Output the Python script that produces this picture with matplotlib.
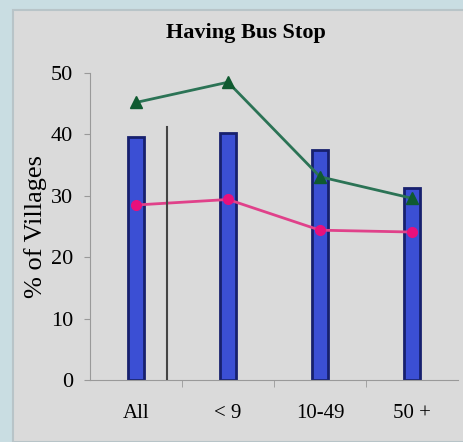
import matplotlib.pyplot as plt
from matplotlib.patches import Rectangle

categories = ["All", "< 9", "10-49", "50 +"]
bar_values = [39.5, 40.3, 37.5, 31.3]
green_values = [45.2, 48.5, 33.1, 29.6]
pink_values = [28.5, 29.4, 24.4, 24.1]
yticks = [0, 10, 20, 30, 40, 50]

plt.rcParams["font.family"] = ["Liberation Serif", "DejaVu Serif"]

fig = plt.figure(figsize=(4.63, 4.42), dpi=100, facecolor="#c9dde2")
# grey inner panel
fig.patches.append(Rectangle((13 / 463, 0), 1, 1 - 10 / 442, transform=fig.transFigure,
                             facecolor="#dadada", edgecolor="#b8c4c8", linewidth=1.5, zorder=0))

ax = fig.add_axes([90 / 463, 1 - 380 / 442, 368 / 463, (380 - 73) / 442])
ax.set_facecolor("none")
ax.set_zorder(2)

x = list(range(len(categories)))
ax.bar(x, bar_values, width=0.18, color="#3b4fd4", edgecolor="#17206e", linewidth=2, zorder=2)
ax.plot(x, pink_values, color="#e0418a", linewidth=2, marker="o", markersize=7,
        markerfacecolor="#e8107c", markeredgecolor="#e8107c", zorder=3)
ax.plot(x, green_values, color="#2b7355", linewidth=2, marker="^", markersize=9,
        markerfacecolor="#0f5a30", markeredgecolor="#0f5a30", zorder=4)
ax.plot([0.34, 0.34], [0, 41.2], color="#444444", linewidth=1.5, zorder=3)

ax.set_xlim(-0.5, 3.5)
ax.set_ylim(0, 50)
ax.set_yticks(yticks)
ax.tick_params(axis="y", labelsize=16, length=4, color="#999999", pad=8)
ax.set_xticks(x)
ax.set_xticklabels(categories)
ax.tick_params(axis="x", which="major", length=0, labelsize=15, pad=17)
ax.set_xticks([0.5, 1.5, 2.5], minor=True)
ax.tick_params(axis="x", which="minor", length=5, color="#999999")

for side in ["top", "right"]:
    ax.spines[side].set_visible(False)
for side in ["left", "bottom"]:
    ax.spines[side].set_color("#999999")

ax.set_ylabel("% of Villages", fontsize=19, labelpad=3)
fig.text(246 / 463, 1 - 33 / 442, "Having Bus Stop", ha="center", va="center",
         fontsize=16, fontweight="bold", zorder=3)

fig.savefig("out.png", dpi=100, facecolor=fig.get_facecolor())
